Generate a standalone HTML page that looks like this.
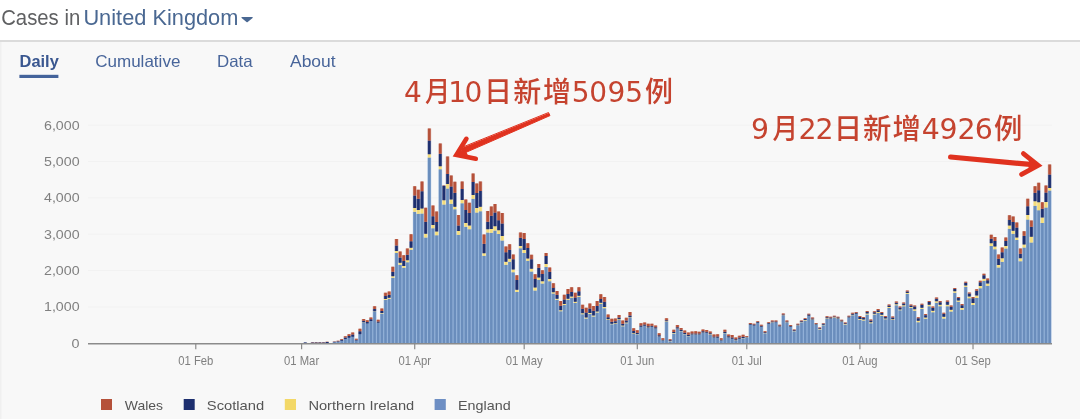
<!DOCTYPE html>
<html lang="en">
<head>
<meta charset="utf-8">
<title>Cases in United Kingdom</title>
<style>
html,body{margin:0;padding:0;}
body{width:1080px;height:419px;overflow:hidden;background:#f8f8f8;font-family:"Liberation Sans","Noto Sans CJK SC",sans-serif;position:relative;}
svg{position:absolute;left:0;top:0;display:block;will-change:transform;}
text{font-family:"Liberation Sans","Noto Sans CJK SC",sans-serif;}
.title{font-size:21.6px;fill:#606163;}
.title .uk{fill:#4a6892;}
.tab{font-size:16.5px;fill:#48659a;}
.tab.on{font-weight:bold;font-size:16px;fill:#3a5790;}
.ax text{font-size:12.2px;fill:#808080;}
.lg text{font-size:13.5px;fill:#555;}
text.n2{font-size:28.4px !important;}
.note{font-family:"DejaVu Sans","Noto Sans CJK SC",sans-serif;font-size:28px;font-weight:500;fill:#c5432f;}
</style>
</head>
<body>
<svg width="1080" height="419" viewBox="0 0 1080 419">
<rect x="0" y="0" width="1080" height="40" fill="#ffffff"/>
<rect x="0" y="40" width="1080" height="2" fill="#dbdbdb"/>
<rect x="0" y="42" width="1.5" height="377" fill="#f0f0f0"/>
<g class="title">
<text x="1.2" y="24.5" textLength="79" lengthAdjust="spacingAndGlyphs">Cases in</text>
<text class="uk" x="83.4" y="24.5" textLength="155" lengthAdjust="spacingAndGlyphs">United Kingdom</text>
<path d="M241.8 17.1 h10.6 q0.6 0.2 0.2 0.8 l-4.9 4.2 q-0.6 0.4 -1.2 0 l-4.9 -4.2 q-0.4 -0.6 0.2 -0.8z" fill="#4a6892"/>
</g>
<g>
<text class="tab on" x="19.6" y="67.4" textLength="39.2" lengthAdjust="spacingAndGlyphs">Daily</text>
<rect x="19.4" y="74.8" width="39" height="3.2" fill="#44639b"/>
<text class="tab" x="95.2" y="67.4" textLength="85.2" lengthAdjust="spacingAndGlyphs">Cumulative</text>
<text class="tab" x="217" y="67.4" textLength="35.6" lengthAdjust="spacingAndGlyphs">Data</text>
<text class="tab" x="290" y="67.4" textLength="45.6" lengthAdjust="spacingAndGlyphs">About</text>
</g>
<g class="grid">
<line x1="88" x2="1052" y1="307.02" y2="307.02" stroke="#f2f2f2" stroke-width="1"/>
<line x1="88" x2="1052" y1="270.64" y2="270.64" stroke="#f2f2f2" stroke-width="1"/>
<line x1="88" x2="1052" y1="234.26" y2="234.26" stroke="#f2f2f2" stroke-width="1"/>
<line x1="88" x2="1052" y1="197.88" y2="197.88" stroke="#f2f2f2" stroke-width="1"/>
<line x1="88" x2="1052" y1="161.5" y2="161.5" stroke="#f2f2f2" stroke-width="1"/>
<line x1="88" x2="1052" y1="125.12" y2="125.12" stroke="#f2f2f2" stroke-width="1"/>
</g>
<g class="bars">
<path fill="#97b5db" d="M299.77 343.4v-0h3.67v0zM303.41 343.4v-0h3.67v0zM307.06 343.4v-0h3.67v0zM310.71 343.4v-0h3.67v0zM314.36 343.4v-0h3.67v0zM318.01 343.4v-0h3.67v0zM321.66 343.4v-0h3.67v0zM325.31 343.4v-0h3.67v0zM328.96 343.4v-0h3.67v0zM332.61 343.4v-1.24h3.67v1.24zM336.26 343.4v-1.67h3.67v1.67zM339.9 343.4v-2.73h3.67v2.73zM343.55 343.4v-4.46h3.67v4.46zM347.2 343.4v-5.64h3.67v5.64zM350.85 343.4v-6.76h3.67v6.76zM354.5 343.4v-2.85h3.67v2.85zM358.15 343.4v-9.14h3.67v9.14zM361.8 343.4v-20.91h3.67v20.91zM365.45 343.4v-19.8h3.67v19.8zM369.1 343.4v-22.28h3.67v22.28zM372.75 343.4v-31.92h3.67v31.92zM376.39 343.4v-20.35h3.67v20.35zM380.04 343.4v-29.99h3.67v29.99zM383.69 343.4v-43.36h3.67v43.36zM387.34 343.4v-44.56h3.67v44.56zM390.99 343.4v-65.65h3.67v65.65zM394.64 343.4v-90.3h3.67v90.3zM398.29 343.4v-78.76h3.67v78.76zM401.94 343.4v-75.54h3.67v75.54zM405.59 343.4v-81.24h3.67v81.24zM409.24 343.4v-93.54h3.67v93.54zM412.88 343.4v-131.6h3.67v131.6zM416.53 343.4v-129.75h3.67v129.75zM420.18 343.4v-130h3.67v130zM423.83 343.4v-105.95h3.67v105.95zM427.48 343.4v-186h3.67v186zM431.13 343.4v-115.25h3.67v115.25zM434.78 343.4v-108.25h3.67v108.25zM438.43 343.4v-174.15h3.67v174.15zM442.08 343.4v-138.8h3.67v138.8zM445.73 343.4v-155h3.67v155zM449.37 343.4v-139.6h3.67v139.6zM453.02 343.4v-134.1h3.67v134.1zM456.67 343.4v-108.55h3.67v108.55zM460.32 343.4v-140.2h3.67v140.2zM463.97 343.4v-116.55h3.67v116.55zM467.62 343.4v-114.1h3.67v114.1zM471.27 343.4v-144.7h3.67v144.7zM474.92 343.4v-130.9h3.67v130.9zM478.57 343.4v-132.2h3.67v132.2zM482.22 343.4v-87.7h3.67v87.7zM485.86 343.4v-111h3.67v111zM489.51 343.4v-110.75h3.67v110.75zM493.16 343.4v-112.85h3.67v112.85zM496.81 343.4v-109.5h3.67v109.5zM500.46 343.4v-102.9h3.67v102.9zM504.11 343.4v-78.6h3.67v78.6zM507.76 343.4v-81.71h3.67v81.71zM511.41 343.4v-71.26h3.67v71.26zM515.06 343.4v-51.35h3.67v51.35zM518.71 343.4v-95.24h3.67v95.24zM522.35 343.4v-90.5h3.67v90.5zM526 343.4v-82.71h3.67v82.71zM529.65 343.4v-71.78h3.67v71.78zM533.3 343.4v-52.98h3.67v52.98zM536.95 343.4v-63.66h3.67v63.66zM540.6 343.4v-59.95h3.67v59.95zM544.25 343.4v-76.5h3.67v76.5zM547.9 343.4v-62.1h3.67v62.1zM551.55 343.4v-50.02h3.67v50.02zM555.2 343.4v-43.75h3.67v43.75zM558.84 343.4v-32.1h3.67v32.1zM562.49 343.4v-38.42h3.67v38.42zM566.14 343.4v-43.59h3.67v43.59zM569.79 343.4v-45.59h3.67v45.59zM573.44 343.4v-40.34h3.67v40.34zM577.09 343.4v-46.55h3.67v46.55zM580.74 343.4v-29.16h3.67v29.16zM584.39 343.4v-24.81h3.67v24.81zM588.04 343.4v-29.32h3.67v29.32zM591.69 343.4v-26.93h3.67v26.93zM595.33 343.4v-30.92h3.67v30.92zM598.98 343.4v-39.43h3.67v39.43zM602.63 343.4v-35.12h3.67v35.12zM606.28 343.4v-23.52h3.67v23.52zM609.93 343.4v-19.15h3.67v19.15zM613.58 343.4v-19.5h3.67v19.5zM617.23 343.4v-23.46h3.67v23.46zM620.88 343.4v-17.2h3.67v17.2zM624.53 343.4v-20.26h3.67v20.26zM628.18 343.4v-25.53h3.67v25.53zM631.82 343.4v-9.47h3.67v9.47zM635.47 343.4v-9.07h3.67v9.07zM639.12 343.4v-16.47h3.67v16.47zM642.77 343.4v-17.43h3.67v17.43zM646.42 343.4v-15.51h3.67v15.51zM650.07 343.4v-16.4h3.67v16.4zM653.72 343.4v-14.72h3.67v14.72zM657.37 343.4v-6.62h3.67v6.62zM661.02 343.4v-2.62h3.67v2.62zM664.67 343.4v-21.77h3.67v21.77zM668.31 343.4v-2.12h3.67v2.12zM671.96 343.4v-10h3.67v10zM675.61 343.4v-14.63h3.67v14.63zM679.26 343.4v-12.06h3.67v12.06zM682.91 343.4v-9.03h3.67v9.03zM686.56 343.4v-7.12h3.67v7.12zM690.21 343.4v-8.55h3.67v8.55zM693.86 343.4v-8.59h3.67v8.59zM697.51 343.4v-8.6h3.67v8.6zM701.16 343.4v-10.72h3.67v10.72zM704.8 343.4v-10.35h3.67v10.35zM708.45 343.4v-8.74h3.67v8.74zM712.1 343.4v-5.71h3.67v5.71zM715.75 343.4v-5.32h3.67v5.32zM719.4 343.4v-2.63h3.67v2.63zM723.05 343.4v-10.17h3.67v10.17zM726.7 343.4v-5.53h3.67v5.53zM730.35 343.4v-4.44h3.67v4.44zM734 343.4v-2.95h3.67v2.95zM737.65 343.4v-4.37h3.67v4.37zM741.29 343.4v-5.04h3.67v5.04zM744.94 343.4v-5.85h3.67v5.85zM748.59 343.4v-18.45h3.67v18.45zM752.24 343.4v-17.8h3.67v17.8zM755.89 343.4v-20.35h3.67v20.35zM759.54 343.4v-16.44h3.67v16.44zM763.19 343.4v-10.21h3.67v10.21zM766.84 343.4v-19.49h3.67v19.49zM770.49 343.4v-21h3.67v21zM774.14 343.4v-21.06h3.67v21.06zM777.78 343.4v-16.7h3.67v16.7zM781.43 343.4v-27.84h3.67v27.84zM785.08 343.4v-20.91h3.67v20.91zM788.73 343.4v-16.5h3.67v16.5zM792.38 343.4v-12.14h3.67v12.14zM796.03 343.4v-17.99h3.67v17.99zM799.68 343.4v-21.04h3.67v21.04zM803.33 343.4v-22.95h3.67v22.95zM806.98 343.4v-27.37h3.67v27.37zM810.63 343.4v-23.51h3.67v23.51zM814.27 343.4v-18.53h3.67v18.53zM817.92 343.4v-13.98h3.67v13.98zM821.57 343.4v-18.19h3.67v18.19zM825.22 343.4v-24.77h3.67v24.77zM828.87 343.4v-24.61h3.67v24.61zM832.52 343.4v-25.7h3.67v25.7zM836.17 343.4v-24.47h3.67v24.47zM839.82 343.4v-21.49h3.67v21.49zM843.47 343.4v-18.91h3.67v18.91zM847.12 343.4v-25.62h3.67v25.62zM850.76 343.4v-28.26h3.67v28.26zM854.41 343.4v-29.36h3.67v29.36zM858.06 343.4v-23.72h3.67v23.72zM861.71 343.4v-22.92h3.67v22.92zM865.36 343.4v-28.92h3.67v28.92zM869.01 343.4v-20.19h3.67v20.19zM872.66 343.4v-28.93h3.67v28.93zM876.31 343.4v-30.44h3.67v30.44zM879.96 343.4v-27.68h3.67v27.68zM883.61 343.4v-24.06h3.67v24.06zM887.25 343.4v-35.41h3.67v35.41zM890.9 343.4v-23.45h3.67v23.45zM894.55 343.4v-38.18h3.67v38.18zM898.2 343.4v-33.04h3.67v33.04zM901.85 343.4v-37.15h3.67v37.15zM905.5 343.4v-49.52h3.67v49.52zM909.15 343.4v-35.53h3.67v35.53zM912.8 343.4v-32.63h3.67v32.63zM916.45 343.4v-21.08h3.67v21.08zM920.1 343.4v-34.37h3.67v34.37zM923.74 343.4v-24.53h3.67v24.53zM927.39 343.4v-37.15h3.67v37.15zM931.04 343.4v-31.14h3.67v31.14zM934.69 343.4v-40.64h3.67v40.64zM938.34 343.4v-37.15h3.67v37.15zM941.99 343.4v-24.94h3.67v24.94zM945.64 343.4v-37.17h3.67v37.17zM949.29 343.4v-31.98h3.67v31.98zM952.94 343.4v-50.63h3.67v50.63zM956.59 343.4v-41.74h3.67v41.74zM960.23 343.4v-33.65h3.67v33.65zM963.88 343.4v-56.35h3.67v56.35zM967.53 343.4v-45.23h3.67v45.23zM971.18 343.4v-38.29h3.67v38.29zM974.83 343.4v-45.44h3.67v45.44zM978.48 343.4v-55.08h3.67v55.08zM982.13 343.4v-62.52h3.67v62.52zM985.78 343.4v-57.62h3.67v57.62zM989.43 343.4v-97.37h3.67v97.37zM993.08 343.4v-94.27h3.67v94.27zM996.72 343.4v-75.85h3.67v75.85zM1000.37 343.4v-81.62h3.67v81.62zM1004.02 343.4v-94.93h3.67v94.93zM1007.67 343.4v-114.7h3.67v114.7zM1011.32 343.4v-109.65h3.67v109.65zM1014.97 343.4v-103.4h3.67v103.4zM1018.62 343.4v-82.15h3.67v82.15zM1022.27 343.4v-96h3.67v96zM1025.92 343.4v-124h3.67v124zM1029.57 343.4v-100.95h3.67v100.95zM1033.21 343.4v-137.75h3.67v137.75zM1036.86 343.4v-133.15h3.67v133.15zM1040.51 343.4v-120.3h3.67v120.3zM1044.16 343.4v-135.9h3.67v135.9zM1047.81 343.4v-152.9h3.67v152.9z"/>
<path fill="#f5e9b3" d="M361.8 322.49v-0.2h3.67v0.2zM365.45 323.6v-0.18h3.67v0.18zM369.1 321.12v-0.21h3.67v0.21zM372.75 311.48v-0.3h3.67v0.3zM376.39 323.05v-0.19h3.67v0.19zM380.04 313.4v-0.28h3.67v0.28zM383.69 300.04v-1.01h3.67v1.01zM387.34 298.84v-1.04h3.67v1.04zM390.99 277.75v-1.53h3.67v1.53zM394.64 253.1v-2h3.67v2zM398.29 264.64v-1.84h3.67v1.84zM401.94 267.86v-1.76h3.67v1.76zM405.59 262.16v-1.9h3.67v1.9zM409.24 249.86v-2.18h3.67v2.18zM412.88 211.8v-3.75h3.67v3.75zM416.53 213.65v-3.75h3.67v3.75zM420.18 213.4v-5h3.67v5zM423.83 237.45v-3.75h3.67v3.75zM427.48 157.4v-3.1h3.67v3.1zM431.13 228.15v-3.1h3.67v3.1zM434.78 235.15v-3.75h3.67v3.75zM438.43 169.25v-3.1h3.67v3.1zM442.08 204.6v-4.4h3.67v4.4zM445.73 188.4v-4.3h3.67v4.3zM449.37 203.8v-4.4h3.67v4.4zM453.02 209.3v-2.5h3.67v2.5zM456.67 234.85v-3.75h3.67v3.75zM460.32 203.2v-3.1h3.67v3.1zM463.97 226.85v-3.75h3.67v3.75zM467.62 229.3v-3.75h3.67v3.75zM471.27 198.7v-3.8h3.67v3.8zM474.92 212.5v-4.4h3.67v4.4zM478.57 211.2v-4.4h3.67v4.4zM482.22 255.7v-2.5h3.67v2.5zM485.86 232.4v-3.1h3.67v3.1zM489.51 232.65v-3.75h3.67v3.75zM493.16 230.55v-4.4h3.67v4.4zM496.81 233.9v-3.75h3.67v3.75zM500.46 240.5v-4.4h3.67v4.4zM504.11 264.8v-3.1h3.67v3.1zM507.76 261.69v-2.9h3.67v2.9zM511.41 272.14v-2.58h3.67v2.58zM515.06 292.05v-2.22h3.67v2.22zM518.71 248.16v-2.23h3.67v2.23zM522.35 252.9v-3h3.67v3zM526 260.69v-2.18h3.67v2.18zM529.65 271.62v-2.88h3.67v2.88zM533.3 290.42v-2.85h3.67v2.85zM536.95 279.74v-2.2h3.67v2.2zM540.6 283.45v-2.18h3.67v2.18zM544.25 266.9v-3h3.67v3zM547.9 281.3v-2.31h3.67v2.31zM551.55 293.38v-1.12h3.67v1.12zM555.2 299.65v-0.98h3.67v0.98zM558.84 311.3v-1.03h3.67v1.03zM562.49 304.98v-1.02h3.67v1.02zM566.14 299.81v-1h3.67v1zM569.79 297.81v-1.25h3.67v1.25zM573.44 303.06v-1.29h3.67v1.29zM577.09 296.85v-1.2h3.67v1.2zM580.74 314.24v-0.92h3.67v0.92zM584.39 318.59v-1.13h3.67v1.13zM588.04 314.08v-1.18h3.67v1.18zM591.69 316.47v-1.08h3.67v1.08zM595.33 312.48v-1.09h3.67v1.09zM598.98 303.97v-1.18h3.67v1.18zM602.63 308.28v-1.23h3.67v1.23zM606.28 319.88v-0.6h3.67v0.6zM609.93 324.25v-0.6h3.67v0.6zM613.58 323.9v-0.6h3.67v0.6zM617.23 319.94v-0.6h3.67v0.6zM620.88 326.2v-0.6h3.67v0.6zM624.53 323.14v-0.6h3.67v0.6zM628.18 317.87v-0.6h3.67v0.6zM631.82 333.93v-0.6h3.67v0.6zM635.47 334.33v-0.3h3.67v0.3zM639.12 326.93v-0.3h3.67v0.3zM642.77 325.97v-0.3h3.67v0.3zM646.42 327.89v-0.3h3.67v0.3zM650.07 327v-0.3h3.67v0.3zM653.72 328.68v-0.3h3.67v0.3zM657.37 336.78v-0.3h3.67v0.3zM661.02 340.77v-0.25h3.67v0.25zM664.67 321.63v-0.3h3.67v0.3zM668.31 341.27v-0.17h3.67v0.17zM671.96 333.4v-0.3h3.67v0.3zM675.61 328.77v-0.3h3.67v0.3zM679.26 331.34v-0.3h3.67v0.3zM682.91 334.37v-0.3h3.67v0.3zM686.56 336.28v-0.3h3.67v0.3zM690.21 334.85v-0.3h3.67v0.3zM693.86 334.81v-0.3h3.67v0.3zM697.51 334.8v-0.3h3.67v0.3zM701.16 332.68v-0.3h3.67v0.3zM704.8 333.05v-0.3h3.67v0.3zM708.45 334.66v-0.3h3.67v0.3zM712.1 337.69v-0.3h3.67v0.3zM715.75 338.08v-0.3h3.67v0.3zM719.4 340.77v-0.24h3.67v0.24zM723.05 333.23v-0.3h3.67v0.3zM726.7 337.87v-0.3h3.67v0.3zM730.35 338.96v-0.3h3.67v0.3zM734 340.45v-0.26h3.67v0.26zM737.65 339.03v-0.3h3.67v0.3zM741.29 338.36v-0.3h3.67v0.3zM744.94 337.55v-0.2h3.67v0.2zM748.59 324.95v-0.2h3.67v0.2zM752.24 325.6v-0.2h3.67v0.2zM755.89 323.05v-0.2h3.67v0.2zM759.54 326.96v-0.2h3.67v0.2zM763.19 333.19v-0.2h3.67v0.2zM766.84 323.91v-0.2h3.67v0.2zM770.49 322.4v-0.2h3.67v0.2zM774.14 322.34v-0.2h3.67v0.2zM777.78 326.7v-0.2h3.67v0.2zM781.43 315.56v-0.2h3.67v0.2zM785.08 322.49v-0.2h3.67v0.2zM788.73 326.9v-0.2h3.67v0.2zM792.38 331.26v-0.2h3.67v0.2zM796.03 325.41v-0.2h3.67v0.2zM799.68 322.36v-0.4h3.67v0.4zM803.33 320.45v-0.4h3.67v0.4zM806.98 316.03v-0.4h3.67v0.4zM810.63 319.89v-0.4h3.67v0.4zM814.27 324.87v-0.4h3.67v0.4zM817.92 329.42v-0.4h3.67v0.4zM821.57 325.21v-0.4h3.67v0.4zM825.22 318.63v-0.4h3.67v0.4zM828.87 318.79v-0.4h3.67v0.4zM832.52 317.7v-0.4h3.67v0.4zM836.17 318.93v-0.4h3.67v0.4zM839.82 321.91v-0.4h3.67v0.4zM843.47 324.49v-0.4h3.67v0.4zM847.12 317.78v-0.4h3.67v0.4zM850.76 315.14v-0.4h3.67v0.4zM854.41 314.04v-0.4h3.67v0.4zM858.06 319.68v-0.79h3.67v0.79zM861.71 320.48v-1.03h3.67v1.03zM865.36 314.48v-1.01h3.67v1.01zM869.01 323.21v-0.85h3.67v0.85zM872.66 314.47v-0.74h3.67v0.74zM876.31 312.96v-0.91h3.67v0.91zM879.96 315.72v-1.02h3.67v1.02zM883.61 319.34v-0.82h3.67v0.82zM887.25 307.99v-0.93h3.67v0.93zM890.9 319.95v-0.78h3.67v0.78zM894.55 305.22v-0.89h3.67v0.89zM898.2 310.36v-0.87h3.67v0.87zM901.85 306.25v-0.91h3.67v0.91zM905.5 293.88v-0.88h3.67v0.88zM909.15 307.87v-1h3.67v1zM912.8 310.77v-1.62h3.67v1.62zM916.45 322.32v-1.51h3.67v1.51zM920.1 309.03v-1.29h3.67v1.29zM923.74 318.87v-1.38h3.67v1.38zM927.39 306.25v-1.53h3.67v1.53zM931.04 312.26v-1.47h3.67v1.47zM934.69 302.76v-1.51h3.67v1.51zM938.34 306.25v-1.52h3.67v1.52zM941.99 318.46v-1.61h3.67v1.61zM945.64 306.23v-1.37h3.67v1.37zM949.29 311.42v-1.68h3.67v1.68zM952.94 292.77v-1.47h3.67v1.47zM956.59 301.66v-1.27h3.67v1.27zM960.23 309.75v-1.71h3.67v1.71zM963.88 287.05v-1.59h3.67v1.59zM967.53 298.17v-1.75h3.67v1.75zM971.18 305.11v-2.12h3.67v2.12zM974.83 297.96v-2.46h3.67v2.46zM978.48 288.32v-2.21h3.67v2.21zM982.13 280.88v-2.06h3.67v2.06zM985.78 285.78v-2.24h3.67v2.24zM989.43 246.03v-2.82h3.67v2.82zM993.08 249.13v-2.53h3.67v2.53zM996.72 267.55v-2.5h3.67v2.5zM1000.37 261.78v-3.51h3.67v3.51zM1004.02 248.47v-2.5h3.67v2.5zM1007.67 228.7v-3.1h3.67v3.1zM1011.32 233.75v-3.1h3.67v3.1zM1014.97 240v-2.5h3.67v2.5zM1018.62 261.25v-3.1h3.67v3.1zM1022.27 247.4v-3h3.67v3zM1025.92 219.4v-4.4h3.67v4.4zM1029.57 242.45v-5.6h3.67v5.6zM1033.21 205.65v-4.4h3.67v4.4zM1036.86 210.25v-8h3.67v8zM1040.51 223.1v-5.6h3.67v5.6zM1044.16 207.5v-5.6h3.67v5.6zM1047.81 190.5v-2.5h3.67v2.5z"/>
<path fill="#8089ad" d="M299.77 343.4v-0.26h3.67v0.26zM303.41 343.4v-0.85h3.67v0.85zM307.06 343.4v-0.34h3.67v0.34zM310.71 343.4v-0.94h3.67v0.94zM314.36 343.4v-0.94h3.67v0.94zM318.01 343.4v-1.02h3.67v1.02zM321.66 343.4v-1.02h3.67v1.02zM325.31 343.4v-1.36h3.67v1.36zM328.96 343.4v-0.34h3.67v0.34zM332.61 342.16v-0.4h3.67v0.4zM336.26 341.73v-0.54h3.67v0.54zM339.9 340.67v-0.88h3.67v0.88zM343.55 338.94v-1.44h3.67v1.44zM347.2 337.76v-1.82h3.67v1.82zM350.85 336.64v-2.18h3.67v2.18zM354.5 340.55v-0.92h3.67v0.92zM358.15 334.25v-2.95h3.67v2.95zM361.8 322.29v-1.46h3.67v1.46zM365.45 323.42v-1.39h3.67v1.39zM369.1 320.91v-1.56h3.67v1.56zM372.75 311.18v-2.23h3.67v2.23zM376.39 322.86v-1.43h3.67v1.43zM380.04 313.12v-2.1h3.67v2.1zM383.69 299.02v-2.93h3.67v2.93zM387.34 297.8v-3.02h3.67v3.02zM390.99 276.22v-4.44h3.67v4.44zM394.64 251.1v-5.6h3.67v5.6zM398.29 262.8v-5.33h3.67v5.33zM401.94 266.09v-5.11h3.67v5.11zM405.59 260.26v-5.5h3.67v5.5zM409.24 247.68v-6.33h3.67v6.33zM412.88 208.05v-12.5h3.67v12.5zM416.53 209.9v-11.25h3.67v11.25zM420.18 208.4v-17.25h3.67v17.25zM423.83 233.7v-11.9h3.67v11.9zM427.48 154.3v-13.8h3.67v13.8zM431.13 225.05v-8.75h3.67v8.75zM434.78 231.4v-9.4h3.67v9.4zM438.43 166.15v-12.5h3.67v12.5zM442.08 200.2v-14.4h3.67v14.4zM445.73 184.1v-10.1h3.67v10.1zM449.37 199.4v-13h3.67v13zM453.02 206.8v-14h3.67v14zM456.67 231.1v-5.6h3.67v5.6zM460.32 200.1v-11.2h3.67v11.2zM463.97 223.1v-13.1h3.67v13.1zM467.62 225.55v-12.5h3.67v12.5zM471.27 194.9v-13h3.67v13zM474.92 208.1v-15.2h3.67v15.2zM478.57 206.8v-15.9h3.67v15.9zM482.22 253.2v-9.4h3.67v9.4zM485.86 229.3v-7.5h3.67v7.5zM489.51 228.9v-13.1h3.67v13.1zM493.16 226.15v-13.75h3.67v13.75zM496.81 230.15v-10h3.67v10zM500.46 236.1v-12.5h3.67v12.5zM504.11 261.7v-9.4h3.67v9.4zM507.76 258.79v-9.01h3.67v9.01zM511.41 269.57v-10.25h3.67v10.25zM515.06 289.83v-9.95h3.67v9.95zM518.71 245.92v-8.22h3.67v8.22zM522.35 249.9v-11h3.67v11zM526 258.5v-10.45h3.67v10.45zM529.65 268.74v-9.57h3.67v9.57zM533.3 287.57v-8.63h3.67v8.63zM536.95 277.54v-9.9h3.67v9.9zM540.6 281.28v-7.4h3.67v7.4zM544.25 263.9v-8h3.67v8zM547.9 278.99v-7.25h3.67v7.25zM551.55 292.26v-4.39h3.67v4.39zM555.2 298.66v-3.87h3.67v3.87zM558.84 310.27v-4.48h3.67v4.48zM562.49 303.96v-4.52h3.67v4.52zM566.14 298.81v-4.93h3.67v4.93zM569.79 296.56v-4.64h3.67v4.64zM573.44 301.77v-4.25h3.67v4.25zM577.09 295.65v-4.46h3.67v4.46zM580.74 313.32v-4.58h3.67v4.58zM584.39 317.46v-5.04h3.67v5.04zM588.04 312.9v-4.29h3.67v4.29zM591.69 315.39v-4.73h3.67v4.73zM595.33 311.39v-5.34h3.67v5.34zM598.98 302.79v-3.87h3.67v3.87zM602.63 307.05v-5.42h3.67v5.42zM606.28 319.28v-2.11h3.67v2.11zM609.93 323.65v-1.82h3.67v1.82zM613.58 323.3v-1.94h3.67v1.94zM617.23 319.34v-1.85h3.67v1.85zM620.88 325.6v-1.91h3.67v1.91zM624.53 322.54v-2.11h3.67v2.11zM628.18 317.27v-1.87h3.67v1.87zM631.82 333.33v-2.24h3.67v2.24zM635.47 334.03v-1.34h3.67v1.34zM639.12 326.63v-1.1h3.67v1.1zM642.77 325.67v-1.14h3.67v1.14zM646.42 327.59v-1.4h3.67v1.4zM650.07 326.7v-1.06h3.67v1.06zM653.72 328.38v-1.08h3.67v1.08zM657.37 336.48v-1.24h3.67v1.24zM661.02 340.53v-0.81h3.67v0.81zM664.67 321.33v-1.14h3.67v1.14zM668.31 341.11v-0.77h3.67v0.77zM671.96 333.1v-1.21h3.67v1.21zM675.61 328.47v-1.28h3.67v1.28zM679.26 331.04v-1.37h3.67v1.37zM682.91 334.07v-1.36h3.67v1.36zM686.56 335.98v-1.15h3.67v1.15zM690.21 334.55v-1.03h3.67v1.03zM693.86 334.51v-1.01h3.67v1.01zM697.51 334.5v-1.07h3.67v1.07zM701.16 332.38v-1.13h3.67v1.13zM704.8 332.75v-0.98h3.67v0.98zM708.45 334.36v-1.03h3.67v1.03zM712.1 337.39v-1h3.67v1zM715.75 337.78v-1.25h3.67v1.25zM719.4 340.53v-0.89h3.67v0.89zM723.05 332.93v-1.14h3.67v1.14zM726.7 337.57v-1.35h3.67v1.35zM730.35 338.66v-1.19h3.67v1.19zM734 340.19v-0.88h3.67v0.88zM737.65 338.73v-1.13h3.67v1.13zM741.29 338.06v-1.34h3.67v1.34zM744.94 337.35v-0.66h3.67v0.66zM748.59 324.75v-0.81h3.67v0.81zM752.24 325.4v-0.81h3.67v0.81zM755.89 322.85v-0.81h3.67v0.81zM759.54 326.76v-0.9h3.67v0.9zM763.19 332.99v-0.73h3.67v0.73zM766.84 323.71v-0.7h3.67v0.7zM770.49 322.2v-0.81h3.67v0.81zM774.14 322.14v-0.75h3.67v0.75zM777.78 326.5v-0.89h3.67v0.89zM781.43 315.36v-0.9h3.67v0.9zM785.08 322.29v-0.89h3.67v0.89zM788.73 326.7v-0.72h3.67v0.72zM792.38 331.06v-0.76h3.67v0.76zM796.03 325.21v-0.66h3.67v0.66zM799.68 321.96v-0.82h3.67v0.82zM803.33 320.05v-1.05h3.67v1.05zM806.98 315.63v-1.04h3.67v1.04zM810.63 319.49v-1.05h3.67v1.05zM814.27 324.47v-0.81h3.67v0.81zM817.92 329.02v-0.8h3.67v0.8zM821.57 324.81v-0.94h3.67v0.94zM825.22 318.23v-1.01h3.67v1.01zM828.87 318.39v-0.95h3.67v0.95zM832.52 317.3v-0.77h3.67v0.77zM836.17 318.53v-1.03h3.67v1.03zM839.82 321.51v-0.98h3.67v0.98zM843.47 324.09v-0.8h3.67v0.8zM847.12 317.38v-0.85h3.67v0.85zM850.76 314.74v-1.05h3.67v1.05zM854.41 313.64v-0.87h3.67v0.87zM858.06 318.89v-1.95h3.67v1.95zM861.71 319.45v-1.57h3.67v1.57zM865.36 313.47v-1.57h3.67v1.57zM869.01 322.36v-1.9h3.67v1.9zM872.66 313.73v-1.56h3.67v1.56zM876.31 312.05v-1.9h3.67v1.9zM879.96 314.7v-1.76h3.67v1.76zM883.61 318.52v-1.61h3.67v1.61zM887.25 307.06v-1.63h3.67v1.63zM890.9 319.17v-1.75h3.67v1.75zM894.55 304.34v-1.71h3.67v1.71zM898.2 309.49v-2.06h3.67v2.06zM901.85 305.34v-1.8h3.67v1.8zM905.5 293v-1.49h3.67v1.49zM909.15 306.88v-1.48h3.67v1.48zM912.8 309.15v-2.58h3.67v2.58zM916.45 320.81v-2.44h3.67v2.44zM920.1 307.74v-2.87h3.67v2.87zM923.74 317.49v-2.36h3.67v2.36zM927.39 304.72v-2.61h3.67v2.61zM931.04 310.79v-2.99h3.67v2.99zM934.69 301.25v-2.61h3.67v2.61zM938.34 304.73v-2.56h3.67v2.56zM941.99 316.85v-3.01h3.67v3.01zM945.64 304.86v-3.01h3.67v3.01zM949.29 309.74v-3.01h3.67v3.01zM952.94 291.3v-2.25h3.67v2.25zM956.59 300.39v-2.36h3.67v2.36zM960.23 308.03v-2.87h3.67v2.87zM963.88 285.47v-2.8h3.67v2.8zM967.53 296.42v-2.96h3.67v2.96zM971.18 302.99v-4.65h3.67v4.65zM974.83 295.5v-4.71h3.67v4.71zM978.48 286.11v-3.9h3.67v3.9zM982.13 278.82v-3.56h3.67v3.56zM985.78 283.54v-3.31h3.67v3.31zM989.43 243.21v-4.55h3.67v4.55zM993.08 246.6v-5.52h3.67v5.52zM996.72 265.05v-6.25h3.67v6.25zM1000.37 258.27v-6.07h3.67v6.07zM1004.02 245.97v-5.04h3.67v5.04zM1007.67 225.6v-5.6h3.67v5.6zM1011.32 230.65v-8.75h3.67v8.75zM1014.97 237.5v-10h3.67v10zM1018.62 258.15v-4.4h3.67v4.4zM1022.27 244.4v-8.75h3.67v8.75zM1025.92 215v-8.75h3.67v8.75zM1029.57 236.85v-10h3.67v10zM1033.21 201.25v-8.5h3.67v8.5zM1036.86 202.25v-12h3.67v12zM1040.51 217.5v-8.75h3.67v8.75zM1044.16 201.9v-9.5h3.67v9.5zM1047.81 188v-13.6h3.67v13.6z"/>
<path fill="#d39c8f" d="M303.41 342.55v-0.15h3.67v0.15zM307.06 343.06v-0.06h3.67v0.06zM310.71 342.46v-0.17h3.67v0.17zM314.36 342.46v-0.17h3.67v0.17zM318.01 342.38v-0.18h3.67v0.18zM321.66 342.38v-0.18h3.67v0.18zM325.31 342.04v-0.24h3.67v0.24zM328.96 343.06v-0.06h3.67v0.06zM332.61 341.76v-0.36h3.67v0.36zM336.26 341.19v-0.49h3.67v0.49zM339.9 339.79v-0.79h3.67v0.79zM343.55 337.5v-1.3h3.67v1.3zM347.2 335.94v-1.64h3.67v1.64zM350.85 334.46v-1.96h3.67v1.96zM354.5 339.63v-0.83h3.67v0.83zM358.15 331.31v-2.65h3.67v2.65zM361.8 320.83v-1.83h3.67v1.83zM365.45 322.03v-1.73h3.67v1.73zM369.1 319.35v-1.95h3.67v1.95zM372.75 308.94v-2.79h3.67v2.79zM376.39 321.43v-1.78h3.67v1.78zM380.04 311.02v-2.62h3.67v2.62zM383.69 296.09v-3.29h3.67v3.29zM387.34 294.78v-3.38h3.67v3.38zM390.99 271.78v-4.98h3.67v4.98zM394.64 245.5v-6.5h3.67v6.5zM398.29 257.47v-5.97h3.67v5.97zM401.94 260.98v-5.73h3.67v5.73zM405.59 254.76v-6.16h3.67v6.16zM409.24 241.34v-7.09h3.67v7.09zM412.88 195.55v-9.4h3.67v9.4zM416.53 198.65v-9h3.67v9zM420.18 191.15v-9.75h3.67v9.75zM423.83 221.8v-14h3.67v14zM427.48 140.5v-12.1h3.67v12.1zM431.13 216.3v-10.9h3.67v10.9zM434.78 222v-10.6h3.67v10.6zM438.43 153.65v-10.25h3.67v10.25zM442.08 185.8v-0.4h3.67v0.4zM445.73 174v-17.6h3.67v17.6zM449.37 186.4v-11h3.67v11zM453.02 192.8v-11h3.67v11zM456.67 225.5v-10.6h3.67v10.6zM460.32 188.9v-7.5h3.67v7.5zM463.97 210v-10.6h3.67v10.6zM467.62 213.05v-10.4h3.67v10.4zM471.27 181.9v-8.5h3.67v8.5zM474.92 192.9v-9.5h3.67v9.5zM478.57 190.9v-9.5h3.67v9.5zM482.22 243.8v-9.4h3.67v9.4zM485.86 221.8v-10.9h3.67v10.9zM489.51 215.8v-9.4h3.67v9.4zM493.16 212.4v-8.5h3.67v8.5zM496.81 220.15v-8.75h3.67v8.75zM500.46 223.6v-10.6h3.67v10.6zM504.11 252.3v-5.9h3.67v5.9zM507.76 249.78v-5.63h3.67v5.63zM511.41 259.32v-4.92h3.67v4.92zM515.06 279.88v-4.73h3.67v4.73zM518.71 237.7v-5.3h3.67v5.3zM522.35 238.9v-6h3.67v6zM526 248.06v-4.91h3.67v4.91zM529.65 259.17v-4.37h3.67v4.37zM533.3 278.94v-4.79h3.67v4.79zM536.95 267.64v-3.74h3.67v3.74zM540.6 273.88v-3.73h3.67v3.73zM544.25 255.9v-3h3.67v3zM547.9 271.74v-4.34h3.67v4.34zM551.55 287.88v-4.73h3.67v4.73zM555.2 294.79v-3.79h3.67v3.79zM558.84 305.79v-4.79h3.67v4.79zM562.49 299.44v-4.64h3.67v4.64zM566.14 293.88v-4.98h3.67v4.98zM569.79 291.92v-4.62h3.67v4.62zM573.44 297.52v-4.87h3.67v4.87zM577.09 291.18v-3.88h3.67v3.88zM580.74 308.74v-3.94h3.67v3.94zM584.39 312.42v-4.77h3.67v4.77zM588.04 308.61v-5.11h3.67v5.11zM591.69 310.65v-4.65h3.67v4.65zM595.33 306.05v-5.05h3.67v5.05zM598.98 298.92v-4.77h3.67v4.77zM602.63 301.64v-4.74h3.67v4.74zM606.28 317.17v-2.77h3.67v2.77zM609.93 321.83v-3.18h3.67v3.18zM613.58 321.36v-2.96h3.67v2.96zM617.23 317.49v-2.59h3.67v2.59zM620.88 323.69v-3.29h3.67v3.29zM624.53 320.43v-2.73h3.67v2.73zM628.18 315.4v-3.4h3.67v3.4zM631.82 331.1v-2.95h3.67v2.95zM635.47 332.69v-2.39h3.67v2.39zM639.12 325.53v-2.38h3.67v2.38zM642.77 324.54v-2.04h3.67v2.04zM646.42 326.19v-2.39h3.67v2.39zM650.07 325.64v-1.84h3.67v1.84zM653.72 327.3v-1.9h3.67v1.9zM657.37 335.24v-2.09h3.67v2.09zM661.02 339.72v-1.57h3.67v1.57zM664.67 320.19v-2.04h3.67v2.04zM668.31 340.34v-1.19h3.67v1.19zM671.96 331.89v-2.24h3.67v2.24zM675.61 327.19v-2.19h3.67v2.19zM679.26 329.66v-1.76h3.67v1.76zM682.91 332.71v-2.31h3.67v2.31zM686.56 334.83v-2.33h3.67v2.33zM690.21 333.52v-2.02h3.67v2.02zM693.86 333.5v-2.2h3.67v2.2zM697.51 333.42v-1.77h3.67v1.77zM701.16 331.24v-1.84h3.67v1.84zM704.8 331.76v-1.76h3.67v1.76zM708.45 333.34v-1.84h3.67v1.84zM712.1 336.4v-2h3.67v2zM715.75 336.53v-2.38h3.67v2.38zM719.4 339.64v-1.49h3.67v1.49zM723.05 331.78v-1.98h3.67v1.98zM726.7 336.21v-1.81h3.67v1.81zM730.35 337.47v-2.47h3.67v2.47zM734 339.31v-1.81h3.67v1.81zM737.65 337.6v-1.8h3.67v1.8zM741.29 336.72v-1.92h3.67v1.92zM744.94 336.69v-0.79h3.67v0.79zM748.59 323.95v-1.05h3.67v1.05zM752.24 324.59v-0.79h3.67v0.79zM755.89 322.05v-0.75h3.67v0.75zM759.54 325.86v-1.06h3.67v1.06zM763.19 332.26v-0.96h3.67v0.96zM766.84 323.01v-0.86h3.67v0.86zM770.49 321.39v-0.99h3.67v0.99zM774.14 321.39v-0.99h3.67v0.99zM777.78 325.61v-0.81h3.67v0.81zM781.43 314.46v-1.06h3.67v1.06zM785.08 321.4v-1h3.67v1zM788.73 325.98v-0.98h3.67v0.98zM792.38 330.31v-0.91h3.67v0.91zM796.03 324.55v-0.75h3.67v0.75zM799.68 321.14v-0.74h3.67v0.74zM803.33 319.01v-0.86h3.67v0.86zM806.98 314.58v-0.78h3.67v0.78zM810.63 318.44v-0.94h3.67v0.94zM814.27 323.66v-0.76h3.67v0.76zM817.92 328.22v-0.72h3.67v0.72zM821.57 323.86v-0.71h3.67v0.71zM825.22 317.22v-0.92h3.67v0.92zM828.87 317.44v-0.79h3.67v0.79zM832.52 316.54v-0.89h3.67v0.89zM836.17 317.5v-0.85h3.67v0.85zM839.82 320.53v-0.88h3.67v0.88zM843.47 323.29v-0.79h3.67v0.79zM847.12 316.53v-0.88h3.67v0.88zM850.76 313.69v-0.89h3.67v0.89zM854.41 312.77v-0.77h3.67v0.77zM858.06 316.94v-1.04h3.67v1.04zM861.71 317.88v-0.78h3.67v0.78zM865.36 311.9v-1h3.67v1zM869.01 320.46v-1.06h3.67v1.06zM872.66 312.17v-0.92h3.67v0.92zM876.31 310.15v-1.05h3.67v1.05zM879.96 312.94v-1.04h3.67v1.04zM883.61 316.91v-1.01h3.67v1.01zM887.25 305.43v-0.83h3.67v0.83zM890.9 317.42v-0.82h3.67v0.82zM894.55 302.63v-1.03h3.67v1.03zM898.2 307.43v-0.93h3.67v0.93zM901.85 303.54v-1.04h3.67v1.04zM905.5 291.51v-0.91h3.67v0.91zM909.15 305.4v-0.8h3.67v0.8zM912.8 306.57v-0.97h3.67v0.97zM916.45 318.37v-1.12h3.67v1.12zM920.1 304.87v-1.12h3.67v1.12zM923.74 315.12v-1.12h3.67v1.12zM927.39 302.11v-1.21h3.67v1.21zM931.04 307.8v-1.2h3.67v1.2zM934.69 298.64v-1.14h3.67v1.14zM938.34 302.18v-1.18h3.67v1.18zM941.99 313.84v-1.09h3.67v1.09zM945.64 301.85v-1.25h3.67v1.25zM949.29 306.72v-1.12h3.67v1.12zM952.94 289.06v-0.96h3.67v0.96zM956.59 298.03v-0.93h3.67v0.93zM960.23 305.17v-1.17h3.67v1.17zM963.88 282.66v-0.96h3.67v0.96zM967.53 293.46v-0.96h3.67v0.96zM971.18 298.34v-1.44h3.67v1.44zM974.83 290.79v-1.59h3.67v1.59zM978.48 282.21v-1.41h3.67v1.41zM982.13 275.26v-1.51h3.67v1.51zM985.78 280.23v-1.73h3.67v1.73zM989.43 238.66v-3.91h3.67v3.91zM993.08 241.08v-4.18h3.67v4.18zM996.72 258.8v-4.4h3.67v4.4zM1000.37 252.2v-4.7h3.67v4.7zM1004.02 240.93v-3.43h3.67v3.43zM1007.67 220v-4.75h3.67v4.75zM1011.32 221.9v-5.4h3.67v5.4zM1014.97 227.5v-5h3.67v5zM1018.62 253.75v-5.25h3.67v5.25zM1022.27 235.65v-4.4h3.67v4.4zM1025.92 206.25v-7.5h3.67v7.5zM1029.57 226.85v-6.25h3.67v6.25zM1033.21 192.75v-6.5h3.67v6.5zM1036.86 190.25v-7.5h3.67v7.5zM1040.51 208.75v-6.5h3.67v6.5zM1044.16 192.4v-7h3.67v7zM1047.81 174.4v-10h3.67v10z"/>
<path fill="#6a8dbc" d="M300.33 343.4v-0h2.55v0zM303.97 343.4v-0h2.55v0zM307.62 343.4v-0h2.55v0zM311.27 343.4v-0h2.55v0zM314.92 343.4v-0h2.55v0zM318.57 343.4v-0h2.55v0zM322.22 343.4v-0h2.55v0zM325.87 343.4v-0h2.55v0zM329.52 343.4v-0h2.55v0zM333.17 343.4v-1.24h2.55v1.24zM336.82 343.4v-1.67h2.55v1.67zM340.46 343.4v-2.73h2.55v2.73zM344.11 343.4v-4.46h2.55v4.46zM347.76 343.4v-5.64h2.55v5.64zM351.41 343.4v-6.76h2.55v6.76zM355.06 343.4v-2.85h2.55v2.85zM358.71 343.4v-9.14h2.55v9.14zM362.36 343.4v-20.91h2.55v20.91zM366.01 343.4v-19.8h2.55v19.8zM369.66 343.4v-22.28h2.55v22.28zM373.31 343.4v-31.92h2.55v31.92zM376.95 343.4v-20.35h2.55v20.35zM380.6 343.4v-29.99h2.55v29.99zM384.25 343.4v-43.36h2.55v43.36zM387.9 343.4v-44.56h2.55v44.56zM391.55 343.4v-65.65h2.55v65.65zM395.2 343.4v-90.3h2.55v90.3zM398.85 343.4v-78.76h2.55v78.76zM402.5 343.4v-75.54h2.55v75.54zM406.15 343.4v-81.24h2.55v81.24zM409.8 343.4v-93.54h2.55v93.54zM413.44 343.4v-131.6h2.55v131.6zM417.09 343.4v-129.75h2.55v129.75zM420.74 343.4v-130h2.55v130zM424.39 343.4v-105.95h2.55v105.95zM428.04 343.4v-186h2.55v186zM431.69 343.4v-115.25h2.55v115.25zM435.34 343.4v-108.25h2.55v108.25zM438.99 343.4v-174.15h2.55v174.15zM442.64 343.4v-138.8h2.55v138.8zM446.29 343.4v-155h2.55v155zM449.93 343.4v-139.6h2.55v139.6zM453.58 343.4v-134.1h2.55v134.1zM457.23 343.4v-108.55h2.55v108.55zM460.88 343.4v-140.2h2.55v140.2zM464.53 343.4v-116.55h2.55v116.55zM468.18 343.4v-114.1h2.55v114.1zM471.83 343.4v-144.7h2.55v144.7zM475.48 343.4v-130.9h2.55v130.9zM479.13 343.4v-132.2h2.55v132.2zM482.78 343.4v-87.7h2.55v87.7zM486.42 343.4v-111h2.55v111zM490.07 343.4v-110.75h2.55v110.75zM493.72 343.4v-112.85h2.55v112.85zM497.37 343.4v-109.5h2.55v109.5zM501.02 343.4v-102.9h2.55v102.9zM504.67 343.4v-78.6h2.55v78.6zM508.32 343.4v-81.71h2.55v81.71zM511.97 343.4v-71.26h2.55v71.26zM515.62 343.4v-51.35h2.55v51.35zM519.26 343.4v-95.24h2.55v95.24zM522.91 343.4v-90.5h2.55v90.5zM526.56 343.4v-82.71h2.55v82.71zM530.21 343.4v-71.78h2.55v71.78zM533.86 343.4v-52.98h2.55v52.98zM537.51 343.4v-63.66h2.55v63.66zM541.16 343.4v-59.95h2.55v59.95zM544.81 343.4v-76.5h2.55v76.5zM548.46 343.4v-62.1h2.55v62.1zM552.11 343.4v-50.02h2.55v50.02zM555.75 343.4v-43.75h2.55v43.75zM559.4 343.4v-32.1h2.55v32.1zM563.05 343.4v-38.42h2.55v38.42zM566.7 343.4v-43.59h2.55v43.59zM570.35 343.4v-45.59h2.55v45.59zM574 343.4v-40.34h2.55v40.34zM577.65 343.4v-46.55h2.55v46.55zM581.3 343.4v-29.16h2.55v29.16zM584.95 343.4v-24.81h2.55v24.81zM588.6 343.4v-29.32h2.55v29.32zM592.25 343.4v-26.93h2.55v26.93zM595.89 343.4v-30.92h2.55v30.92zM599.54 343.4v-39.43h2.55v39.43zM603.19 343.4v-35.12h2.55v35.12zM606.84 343.4v-23.52h2.55v23.52zM610.49 343.4v-19.15h2.55v19.15zM614.14 343.4v-19.5h2.55v19.5zM617.79 343.4v-23.46h2.55v23.46zM621.44 343.4v-17.2h2.55v17.2zM625.09 343.4v-20.26h2.55v20.26zM628.74 343.4v-25.53h2.55v25.53zM632.38 343.4v-9.47h2.55v9.47zM636.03 343.4v-9.07h2.55v9.07zM639.68 343.4v-16.47h2.55v16.47zM643.33 343.4v-17.43h2.55v17.43zM646.98 343.4v-15.51h2.55v15.51zM650.63 343.4v-16.4h2.55v16.4zM654.28 343.4v-14.72h2.55v14.72zM657.93 343.4v-6.62h2.55v6.62zM661.58 343.4v-2.62h2.55v2.62zM665.23 343.4v-21.77h2.55v21.77zM668.87 343.4v-2.12h2.55v2.12zM672.52 343.4v-10h2.55v10zM676.17 343.4v-14.63h2.55v14.63zM679.82 343.4v-12.06h2.55v12.06zM683.47 343.4v-9.03h2.55v9.03zM687.12 343.4v-7.12h2.55v7.12zM690.77 343.4v-8.55h2.55v8.55zM694.42 343.4v-8.59h2.55v8.59zM698.07 343.4v-8.6h2.55v8.6zM701.72 343.4v-10.72h2.55v10.72zM705.36 343.4v-10.35h2.55v10.35zM709.01 343.4v-8.74h2.55v8.74zM712.66 343.4v-5.71h2.55v5.71zM716.31 343.4v-5.32h2.55v5.32zM719.96 343.4v-2.63h2.55v2.63zM723.61 343.4v-10.17h2.55v10.17zM727.26 343.4v-5.53h2.55v5.53zM730.91 343.4v-4.44h2.55v4.44zM734.56 343.4v-2.95h2.55v2.95zM738.21 343.4v-4.37h2.55v4.37zM741.85 343.4v-5.04h2.55v5.04zM745.5 343.4v-5.85h2.55v5.85zM749.15 343.4v-18.45h2.55v18.45zM752.8 343.4v-17.8h2.55v17.8zM756.45 343.4v-20.35h2.55v20.35zM760.1 343.4v-16.44h2.55v16.44zM763.75 343.4v-10.21h2.55v10.21zM767.4 343.4v-19.49h2.55v19.49zM771.05 343.4v-21h2.55v21zM774.7 343.4v-21.06h2.55v21.06zM778.34 343.4v-16.7h2.55v16.7zM781.99 343.4v-27.84h2.55v27.84zM785.64 343.4v-20.91h2.55v20.91zM789.29 343.4v-16.5h2.55v16.5zM792.94 343.4v-12.14h2.55v12.14zM796.59 343.4v-17.99h2.55v17.99zM800.24 343.4v-21.04h2.55v21.04zM803.89 343.4v-22.95h2.55v22.95zM807.54 343.4v-27.37h2.55v27.37zM811.19 343.4v-23.51h2.55v23.51zM814.83 343.4v-18.53h2.55v18.53zM818.48 343.4v-13.98h2.55v13.98zM822.13 343.4v-18.19h2.55v18.19zM825.78 343.4v-24.77h2.55v24.77zM829.43 343.4v-24.61h2.55v24.61zM833.08 343.4v-25.7h2.55v25.7zM836.73 343.4v-24.47h2.55v24.47zM840.38 343.4v-21.49h2.55v21.49zM844.03 343.4v-18.91h2.55v18.91zM847.68 343.4v-25.62h2.55v25.62zM851.32 343.4v-28.26h2.55v28.26zM854.97 343.4v-29.36h2.55v29.36zM858.62 343.4v-23.72h2.55v23.72zM862.27 343.4v-22.92h2.55v22.92zM865.92 343.4v-28.92h2.55v28.92zM869.57 343.4v-20.19h2.55v20.19zM873.22 343.4v-28.93h2.55v28.93zM876.87 343.4v-30.44h2.55v30.44zM880.52 343.4v-27.68h2.55v27.68zM884.17 343.4v-24.06h2.55v24.06zM887.81 343.4v-35.41h2.55v35.41zM891.46 343.4v-23.45h2.55v23.45zM895.11 343.4v-38.18h2.55v38.18zM898.76 343.4v-33.04h2.55v33.04zM902.41 343.4v-37.15h2.55v37.15zM906.06 343.4v-49.52h2.55v49.52zM909.71 343.4v-35.53h2.55v35.53zM913.36 343.4v-32.63h2.55v32.63zM917.01 343.4v-21.08h2.55v21.08zM920.66 343.4v-34.37h2.55v34.37zM924.3 343.4v-24.53h2.55v24.53zM927.95 343.4v-37.15h2.55v37.15zM931.6 343.4v-31.14h2.55v31.14zM935.25 343.4v-40.64h2.55v40.64zM938.9 343.4v-37.15h2.55v37.15zM942.55 343.4v-24.94h2.55v24.94zM946.2 343.4v-37.17h2.55v37.17zM949.85 343.4v-31.98h2.55v31.98zM953.5 343.4v-50.63h2.55v50.63zM957.15 343.4v-41.74h2.55v41.74zM960.79 343.4v-33.65h2.55v33.65zM964.44 343.4v-56.35h2.55v56.35zM968.09 343.4v-45.23h2.55v45.23zM971.74 343.4v-38.29h2.55v38.29zM975.39 343.4v-45.44h2.55v45.44zM979.04 343.4v-55.08h2.55v55.08zM982.69 343.4v-62.52h2.55v62.52zM986.34 343.4v-57.62h2.55v57.62zM989.99 343.4v-97.37h2.55v97.37zM993.64 343.4v-94.27h2.55v94.27zM997.28 343.4v-75.85h2.55v75.85zM1000.93 343.4v-81.62h2.55v81.62zM1004.58 343.4v-94.93h2.55v94.93zM1008.23 343.4v-114.7h2.55v114.7zM1011.88 343.4v-109.65h2.55v109.65zM1015.53 343.4v-103.4h2.55v103.4zM1019.18 343.4v-82.15h2.55v82.15zM1022.83 343.4v-96h2.55v96zM1026.48 343.4v-124h2.55v124zM1030.12 343.4v-100.95h2.55v100.95zM1033.77 343.4v-137.75h2.55v137.75zM1037.42 343.4v-133.15h2.55v133.15zM1041.07 343.4v-120.3h2.55v120.3zM1044.72 343.4v-135.9h2.55v135.9zM1048.37 343.4v-152.9h2.55v152.9z"/>
<path fill="#f3dc7a" d="M362.36 322.49v-0.2h2.55v0.2zM366.01 323.6v-0.18h2.55v0.18zM369.66 321.12v-0.21h2.55v0.21zM373.31 311.48v-0.3h2.55v0.3zM376.95 323.05v-0.19h2.55v0.19zM380.6 313.4v-0.28h2.55v0.28zM384.25 300.04v-1.01h2.55v1.01zM387.9 298.84v-1.04h2.55v1.04zM391.55 277.75v-1.53h2.55v1.53zM395.2 253.1v-2h2.55v2zM398.85 264.64v-1.84h2.55v1.84zM402.5 267.86v-1.76h2.55v1.76zM406.15 262.16v-1.9h2.55v1.9zM409.8 249.86v-2.18h2.55v2.18zM413.44 211.8v-3.75h2.55v3.75zM417.09 213.65v-3.75h2.55v3.75zM420.74 213.4v-5h2.55v5zM424.39 237.45v-3.75h2.55v3.75zM428.04 157.4v-3.1h2.55v3.1zM431.69 228.15v-3.1h2.55v3.1zM435.34 235.15v-3.75h2.55v3.75zM438.99 169.25v-3.1h2.55v3.1zM442.64 204.6v-4.4h2.55v4.4zM446.29 188.4v-4.3h2.55v4.3zM449.93 203.8v-4.4h2.55v4.4zM453.58 209.3v-2.5h2.55v2.5zM457.23 234.85v-3.75h2.55v3.75zM460.88 203.2v-3.1h2.55v3.1zM464.53 226.85v-3.75h2.55v3.75zM468.18 229.3v-3.75h2.55v3.75zM471.83 198.7v-3.8h2.55v3.8zM475.48 212.5v-4.4h2.55v4.4zM479.13 211.2v-4.4h2.55v4.4zM482.78 255.7v-2.5h2.55v2.5zM486.42 232.4v-3.1h2.55v3.1zM490.07 232.65v-3.75h2.55v3.75zM493.72 230.55v-4.4h2.55v4.4zM497.37 233.9v-3.75h2.55v3.75zM501.02 240.5v-4.4h2.55v4.4zM504.67 264.8v-3.1h2.55v3.1zM508.32 261.69v-2.9h2.55v2.9zM511.97 272.14v-2.58h2.55v2.58zM515.62 292.05v-2.22h2.55v2.22zM519.26 248.16v-2.23h2.55v2.23zM522.91 252.9v-3h2.55v3zM526.56 260.69v-2.18h2.55v2.18zM530.21 271.62v-2.88h2.55v2.88zM533.86 290.42v-2.85h2.55v2.85zM537.51 279.74v-2.2h2.55v2.2zM541.16 283.45v-2.18h2.55v2.18zM544.81 266.9v-3h2.55v3zM548.46 281.3v-2.31h2.55v2.31zM552.11 293.38v-1.12h2.55v1.12zM555.75 299.65v-0.98h2.55v0.98zM559.4 311.3v-1.03h2.55v1.03zM563.05 304.98v-1.02h2.55v1.02zM566.7 299.81v-1h2.55v1zM570.35 297.81v-1.25h2.55v1.25zM574 303.06v-1.29h2.55v1.29zM577.65 296.85v-1.2h2.55v1.2zM581.3 314.24v-0.92h2.55v0.92zM584.95 318.59v-1.13h2.55v1.13zM588.6 314.08v-1.18h2.55v1.18zM592.25 316.47v-1.08h2.55v1.08zM595.89 312.48v-1.09h2.55v1.09zM599.54 303.97v-1.18h2.55v1.18zM603.19 308.28v-1.23h2.55v1.23zM606.84 319.88v-0.6h2.55v0.6zM610.49 324.25v-0.6h2.55v0.6zM614.14 323.9v-0.6h2.55v0.6zM617.79 319.94v-0.6h2.55v0.6zM621.44 326.2v-0.6h2.55v0.6zM625.09 323.14v-0.6h2.55v0.6zM628.74 317.87v-0.6h2.55v0.6zM632.38 333.93v-0.6h2.55v0.6zM636.03 334.33v-0.3h2.55v0.3zM639.68 326.93v-0.3h2.55v0.3zM643.33 325.97v-0.3h2.55v0.3zM646.98 327.89v-0.3h2.55v0.3zM650.63 327v-0.3h2.55v0.3zM654.28 328.68v-0.3h2.55v0.3zM657.93 336.78v-0.3h2.55v0.3zM661.58 340.77v-0.25h2.55v0.25zM665.23 321.63v-0.3h2.55v0.3zM668.87 341.27v-0.17h2.55v0.17zM672.52 333.4v-0.3h2.55v0.3zM676.17 328.77v-0.3h2.55v0.3zM679.82 331.34v-0.3h2.55v0.3zM683.47 334.37v-0.3h2.55v0.3zM687.12 336.28v-0.3h2.55v0.3zM690.77 334.85v-0.3h2.55v0.3zM694.42 334.81v-0.3h2.55v0.3zM698.07 334.8v-0.3h2.55v0.3zM701.72 332.68v-0.3h2.55v0.3zM705.36 333.05v-0.3h2.55v0.3zM709.01 334.66v-0.3h2.55v0.3zM712.66 337.69v-0.3h2.55v0.3zM716.31 338.08v-0.3h2.55v0.3zM719.96 340.77v-0.24h2.55v0.24zM723.61 333.23v-0.3h2.55v0.3zM727.26 337.87v-0.3h2.55v0.3zM730.91 338.96v-0.3h2.55v0.3zM734.56 340.45v-0.26h2.55v0.26zM738.21 339.03v-0.3h2.55v0.3zM741.85 338.36v-0.3h2.55v0.3zM745.5 337.55v-0.2h2.55v0.2zM749.15 324.95v-0.2h2.55v0.2zM752.8 325.6v-0.2h2.55v0.2zM756.45 323.05v-0.2h2.55v0.2zM760.1 326.96v-0.2h2.55v0.2zM763.75 333.19v-0.2h2.55v0.2zM767.4 323.91v-0.2h2.55v0.2zM771.05 322.4v-0.2h2.55v0.2zM774.7 322.34v-0.2h2.55v0.2zM778.34 326.7v-0.2h2.55v0.2zM781.99 315.56v-0.2h2.55v0.2zM785.64 322.49v-0.2h2.55v0.2zM789.29 326.9v-0.2h2.55v0.2zM792.94 331.26v-0.2h2.55v0.2zM796.59 325.41v-0.2h2.55v0.2zM800.24 322.36v-0.4h2.55v0.4zM803.89 320.45v-0.4h2.55v0.4zM807.54 316.03v-0.4h2.55v0.4zM811.19 319.89v-0.4h2.55v0.4zM814.83 324.87v-0.4h2.55v0.4zM818.48 329.42v-0.4h2.55v0.4zM822.13 325.21v-0.4h2.55v0.4zM825.78 318.63v-0.4h2.55v0.4zM829.43 318.79v-0.4h2.55v0.4zM833.08 317.7v-0.4h2.55v0.4zM836.73 318.93v-0.4h2.55v0.4zM840.38 321.91v-0.4h2.55v0.4zM844.03 324.49v-0.4h2.55v0.4zM847.68 317.78v-0.4h2.55v0.4zM851.32 315.14v-0.4h2.55v0.4zM854.97 314.04v-0.4h2.55v0.4zM858.62 319.68v-0.79h2.55v0.79zM862.27 320.48v-1.03h2.55v1.03zM865.92 314.48v-1.01h2.55v1.01zM869.57 323.21v-0.85h2.55v0.85zM873.22 314.47v-0.74h2.55v0.74zM876.87 312.96v-0.91h2.55v0.91zM880.52 315.72v-1.02h2.55v1.02zM884.17 319.34v-0.82h2.55v0.82zM887.81 307.99v-0.93h2.55v0.93zM891.46 319.95v-0.78h2.55v0.78zM895.11 305.22v-0.89h2.55v0.89zM898.76 310.36v-0.87h2.55v0.87zM902.41 306.25v-0.91h2.55v0.91zM906.06 293.88v-0.88h2.55v0.88zM909.71 307.87v-1h2.55v1zM913.36 310.77v-1.62h2.55v1.62zM917.01 322.32v-1.51h2.55v1.51zM920.66 309.03v-1.29h2.55v1.29zM924.3 318.87v-1.38h2.55v1.38zM927.95 306.25v-1.53h2.55v1.53zM931.6 312.26v-1.47h2.55v1.47zM935.25 302.76v-1.51h2.55v1.51zM938.9 306.25v-1.52h2.55v1.52zM942.55 318.46v-1.61h2.55v1.61zM946.2 306.23v-1.37h2.55v1.37zM949.85 311.42v-1.68h2.55v1.68zM953.5 292.77v-1.47h2.55v1.47zM957.15 301.66v-1.27h2.55v1.27zM960.79 309.75v-1.71h2.55v1.71zM964.44 287.05v-1.59h2.55v1.59zM968.09 298.17v-1.75h2.55v1.75zM971.74 305.11v-2.12h2.55v2.12zM975.39 297.96v-2.46h2.55v2.46zM979.04 288.32v-2.21h2.55v2.21zM982.69 280.88v-2.06h2.55v2.06zM986.34 285.78v-2.24h2.55v2.24zM989.99 246.03v-2.82h2.55v2.82zM993.64 249.13v-2.53h2.55v2.53zM997.28 267.55v-2.5h2.55v2.5zM1000.93 261.78v-3.51h2.55v3.51zM1004.58 248.47v-2.5h2.55v2.5zM1008.23 228.7v-3.1h2.55v3.1zM1011.88 233.75v-3.1h2.55v3.1zM1015.53 240v-2.5h2.55v2.5zM1019.18 261.25v-3.1h2.55v3.1zM1022.83 247.4v-3h2.55v3zM1026.48 219.4v-4.4h2.55v4.4zM1030.12 242.45v-5.6h2.55v5.6zM1033.77 205.65v-4.4h2.55v4.4zM1037.42 210.25v-8h2.55v8zM1041.07 223.1v-5.6h2.55v5.6zM1044.72 207.5v-5.6h2.55v5.6zM1048.37 190.5v-2.5h2.55v2.5z"/>
<path fill="#1d2f6f" d="M300.33 343.4v-0.26h2.55v0.26zM303.97 343.4v-0.85h2.55v0.85zM307.62 343.4v-0.34h2.55v0.34zM311.27 343.4v-0.94h2.55v0.94zM314.92 343.4v-0.94h2.55v0.94zM318.57 343.4v-1.02h2.55v1.02zM322.22 343.4v-1.02h2.55v1.02zM325.87 343.4v-1.36h2.55v1.36zM329.52 343.4v-0.34h2.55v0.34zM333.17 342.16v-0.4h2.55v0.4zM336.82 341.73v-0.54h2.55v0.54zM340.46 340.67v-0.88h2.55v0.88zM344.11 338.94v-1.44h2.55v1.44zM347.76 337.76v-1.82h2.55v1.82zM351.41 336.64v-2.18h2.55v2.18zM355.06 340.55v-0.92h2.55v0.92zM358.71 334.25v-2.95h2.55v2.95zM362.36 322.29v-1.46h2.55v1.46zM366.01 323.42v-1.39h2.55v1.39zM369.66 320.91v-1.56h2.55v1.56zM373.31 311.18v-2.23h2.55v2.23zM376.95 322.86v-1.43h2.55v1.43zM380.6 313.12v-2.1h2.55v2.1zM384.25 299.02v-2.93h2.55v2.93zM387.9 297.8v-3.02h2.55v3.02zM391.55 276.22v-4.44h2.55v4.44zM395.2 251.1v-5.6h2.55v5.6zM398.85 262.8v-5.33h2.55v5.33zM402.5 266.09v-5.11h2.55v5.11zM406.15 260.26v-5.5h2.55v5.5zM409.8 247.68v-6.33h2.55v6.33zM413.44 208.05v-12.5h2.55v12.5zM417.09 209.9v-11.25h2.55v11.25zM420.74 208.4v-17.25h2.55v17.25zM424.39 233.7v-11.9h2.55v11.9zM428.04 154.3v-13.8h2.55v13.8zM431.69 225.05v-8.75h2.55v8.75zM435.34 231.4v-9.4h2.55v9.4zM438.99 166.15v-12.5h2.55v12.5zM442.64 200.2v-14.4h2.55v14.4zM446.29 184.1v-10.1h2.55v10.1zM449.93 199.4v-13h2.55v13zM453.58 206.8v-14h2.55v14zM457.23 231.1v-5.6h2.55v5.6zM460.88 200.1v-11.2h2.55v11.2zM464.53 223.1v-13.1h2.55v13.1zM468.18 225.55v-12.5h2.55v12.5zM471.83 194.9v-13h2.55v13zM475.48 208.1v-15.2h2.55v15.2zM479.13 206.8v-15.9h2.55v15.9zM482.78 253.2v-9.4h2.55v9.4zM486.42 229.3v-7.5h2.55v7.5zM490.07 228.9v-13.1h2.55v13.1zM493.72 226.15v-13.75h2.55v13.75zM497.37 230.15v-10h2.55v10zM501.02 236.1v-12.5h2.55v12.5zM504.67 261.7v-9.4h2.55v9.4zM508.32 258.79v-9.01h2.55v9.01zM511.97 269.57v-10.25h2.55v10.25zM515.62 289.83v-9.95h2.55v9.95zM519.26 245.92v-8.22h2.55v8.22zM522.91 249.9v-11h2.55v11zM526.56 258.5v-10.45h2.55v10.45zM530.21 268.74v-9.57h2.55v9.57zM533.86 287.57v-8.63h2.55v8.63zM537.51 277.54v-9.9h2.55v9.9zM541.16 281.28v-7.4h2.55v7.4zM544.81 263.9v-8h2.55v8zM548.46 278.99v-7.25h2.55v7.25zM552.11 292.26v-4.39h2.55v4.39zM555.75 298.66v-3.87h2.55v3.87zM559.4 310.27v-4.48h2.55v4.48zM563.05 303.96v-4.52h2.55v4.52zM566.7 298.81v-4.93h2.55v4.93zM570.35 296.56v-4.64h2.55v4.64zM574 301.77v-4.25h2.55v4.25zM577.65 295.65v-4.46h2.55v4.46zM581.3 313.32v-4.58h2.55v4.58zM584.95 317.46v-5.04h2.55v5.04zM588.6 312.9v-4.29h2.55v4.29zM592.25 315.39v-4.73h2.55v4.73zM595.89 311.39v-5.34h2.55v5.34zM599.54 302.79v-3.87h2.55v3.87zM603.19 307.05v-5.42h2.55v5.42zM606.84 319.28v-2.11h2.55v2.11zM610.49 323.65v-1.82h2.55v1.82zM614.14 323.3v-1.94h2.55v1.94zM617.79 319.34v-1.85h2.55v1.85zM621.44 325.6v-1.91h2.55v1.91zM625.09 322.54v-2.11h2.55v2.11zM628.74 317.27v-1.87h2.55v1.87zM632.38 333.33v-2.24h2.55v2.24zM636.03 334.03v-1.34h2.55v1.34zM639.68 326.63v-1.1h2.55v1.1zM643.33 325.67v-1.14h2.55v1.14zM646.98 327.59v-1.4h2.55v1.4zM650.63 326.7v-1.06h2.55v1.06zM654.28 328.38v-1.08h2.55v1.08zM657.93 336.48v-1.24h2.55v1.24zM661.58 340.53v-0.81h2.55v0.81zM665.23 321.33v-1.14h2.55v1.14zM668.87 341.11v-0.77h2.55v0.77zM672.52 333.1v-1.21h2.55v1.21zM676.17 328.47v-1.28h2.55v1.28zM679.82 331.04v-1.37h2.55v1.37zM683.47 334.07v-1.36h2.55v1.36zM687.12 335.98v-1.15h2.55v1.15zM690.77 334.55v-1.03h2.55v1.03zM694.42 334.51v-1.01h2.55v1.01zM698.07 334.5v-1.07h2.55v1.07zM701.72 332.38v-1.13h2.55v1.13zM705.36 332.75v-0.98h2.55v0.98zM709.01 334.36v-1.03h2.55v1.03zM712.66 337.39v-1h2.55v1zM716.31 337.78v-1.25h2.55v1.25zM719.96 340.53v-0.89h2.55v0.89zM723.61 332.93v-1.14h2.55v1.14zM727.26 337.57v-1.35h2.55v1.35zM730.91 338.66v-1.19h2.55v1.19zM734.56 340.19v-0.88h2.55v0.88zM738.21 338.73v-1.13h2.55v1.13zM741.85 338.06v-1.34h2.55v1.34zM745.5 337.35v-0.66h2.55v0.66zM749.15 324.75v-0.81h2.55v0.81zM752.8 325.4v-0.81h2.55v0.81zM756.45 322.85v-0.81h2.55v0.81zM760.1 326.76v-0.9h2.55v0.9zM763.75 332.99v-0.73h2.55v0.73zM767.4 323.71v-0.7h2.55v0.7zM771.05 322.2v-0.81h2.55v0.81zM774.7 322.14v-0.75h2.55v0.75zM778.34 326.5v-0.89h2.55v0.89zM781.99 315.36v-0.9h2.55v0.9zM785.64 322.29v-0.89h2.55v0.89zM789.29 326.7v-0.72h2.55v0.72zM792.94 331.06v-0.76h2.55v0.76zM796.59 325.21v-0.66h2.55v0.66zM800.24 321.96v-0.82h2.55v0.82zM803.89 320.05v-1.05h2.55v1.05zM807.54 315.63v-1.04h2.55v1.04zM811.19 319.49v-1.05h2.55v1.05zM814.83 324.47v-0.81h2.55v0.81zM818.48 329.02v-0.8h2.55v0.8zM822.13 324.81v-0.94h2.55v0.94zM825.78 318.23v-1.01h2.55v1.01zM829.43 318.39v-0.95h2.55v0.95zM833.08 317.3v-0.77h2.55v0.77zM836.73 318.53v-1.03h2.55v1.03zM840.38 321.51v-0.98h2.55v0.98zM844.03 324.09v-0.8h2.55v0.8zM847.68 317.38v-0.85h2.55v0.85zM851.32 314.74v-1.05h2.55v1.05zM854.97 313.64v-0.87h2.55v0.87zM858.62 318.89v-1.95h2.55v1.95zM862.27 319.45v-1.57h2.55v1.57zM865.92 313.47v-1.57h2.55v1.57zM869.57 322.36v-1.9h2.55v1.9zM873.22 313.73v-1.56h2.55v1.56zM876.87 312.05v-1.9h2.55v1.9zM880.52 314.7v-1.76h2.55v1.76zM884.17 318.52v-1.61h2.55v1.61zM887.81 307.06v-1.63h2.55v1.63zM891.46 319.17v-1.75h2.55v1.75zM895.11 304.34v-1.71h2.55v1.71zM898.76 309.49v-2.06h2.55v2.06zM902.41 305.34v-1.8h2.55v1.8zM906.06 293v-1.49h2.55v1.49zM909.71 306.88v-1.48h2.55v1.48zM913.36 309.15v-2.58h2.55v2.58zM917.01 320.81v-2.44h2.55v2.44zM920.66 307.74v-2.87h2.55v2.87zM924.3 317.49v-2.36h2.55v2.36zM927.95 304.72v-2.61h2.55v2.61zM931.6 310.79v-2.99h2.55v2.99zM935.25 301.25v-2.61h2.55v2.61zM938.9 304.73v-2.56h2.55v2.56zM942.55 316.85v-3.01h2.55v3.01zM946.2 304.86v-3.01h2.55v3.01zM949.85 309.74v-3.01h2.55v3.01zM953.5 291.3v-2.25h2.55v2.25zM957.15 300.39v-2.36h2.55v2.36zM960.79 308.03v-2.87h2.55v2.87zM964.44 285.47v-2.8h2.55v2.8zM968.09 296.42v-2.96h2.55v2.96zM971.74 302.99v-4.65h2.55v4.65zM975.39 295.5v-4.71h2.55v4.71zM979.04 286.11v-3.9h2.55v3.9zM982.69 278.82v-3.56h2.55v3.56zM986.34 283.54v-3.31h2.55v3.31zM989.99 243.21v-4.55h2.55v4.55zM993.64 246.6v-5.52h2.55v5.52zM997.28 265.05v-6.25h2.55v6.25zM1000.93 258.27v-6.07h2.55v6.07zM1004.58 245.97v-5.04h2.55v5.04zM1008.23 225.6v-5.6h2.55v5.6zM1011.88 230.65v-8.75h2.55v8.75zM1015.53 237.5v-10h2.55v10zM1019.18 258.15v-4.4h2.55v4.4zM1022.83 244.4v-8.75h2.55v8.75zM1026.48 215v-8.75h2.55v8.75zM1030.12 236.85v-10h2.55v10zM1033.77 201.25v-8.5h2.55v8.5zM1037.42 202.25v-12h2.55v12zM1041.07 217.5v-8.75h2.55v8.75zM1044.72 201.9v-9.5h2.55v9.5zM1048.37 188v-13.6h2.55v13.6zM296.68 343.4v-0.4h2.55v0.4zM289.38 343.4v-0.3h2.55v0.3zM278.43 343.4v-0.3h2.55v0.3zM227.34 343.4v-0.3h2.55v0.3zM190.86 343.4v-0.3h2.55v0.3z"/>
<path fill="#b5513a" d="M303.97 342.55v-0.15h2.55v0.15zM307.62 343.06v-0.06h2.55v0.06zM311.27 342.46v-0.17h2.55v0.17zM314.92 342.46v-0.17h2.55v0.17zM318.57 342.38v-0.18h2.55v0.18zM322.22 342.38v-0.18h2.55v0.18zM325.87 342.04v-0.24h2.55v0.24zM329.52 343.06v-0.06h2.55v0.06zM333.17 341.76v-0.36h2.55v0.36zM336.82 341.19v-0.49h2.55v0.49zM340.46 339.79v-0.79h2.55v0.79zM344.11 337.5v-1.3h2.55v1.3zM347.76 335.94v-1.64h2.55v1.64zM351.41 334.46v-1.96h2.55v1.96zM355.06 339.63v-0.83h2.55v0.83zM358.71 331.31v-2.65h2.55v2.65zM362.36 320.83v-1.83h2.55v1.83zM366.01 322.03v-1.73h2.55v1.73zM369.66 319.35v-1.95h2.55v1.95zM373.31 308.94v-2.79h2.55v2.79zM376.95 321.43v-1.78h2.55v1.78zM380.6 311.02v-2.62h2.55v2.62zM384.25 296.09v-3.29h2.55v3.29zM387.9 294.78v-3.38h2.55v3.38zM391.55 271.78v-4.98h2.55v4.98zM395.2 245.5v-6.5h2.55v6.5zM398.85 257.47v-5.97h2.55v5.97zM402.5 260.98v-5.73h2.55v5.73zM406.15 254.76v-6.16h2.55v6.16zM409.8 241.34v-7.09h2.55v7.09zM413.44 195.55v-9.4h2.55v9.4zM417.09 198.65v-9h2.55v9zM420.74 191.15v-9.75h2.55v9.75zM424.39 221.8v-14h2.55v14zM428.04 140.5v-12.1h2.55v12.1zM431.69 216.3v-10.9h2.55v10.9zM435.34 222v-10.6h2.55v10.6zM438.99 153.65v-10.25h2.55v10.25zM442.64 185.8v-0.4h2.55v0.4zM446.29 174v-17.6h2.55v17.6zM449.93 186.4v-11h2.55v11zM453.58 192.8v-11h2.55v11zM457.23 225.5v-10.6h2.55v10.6zM460.88 188.9v-7.5h2.55v7.5zM464.53 210v-10.6h2.55v10.6zM468.18 213.05v-10.4h2.55v10.4zM471.83 181.9v-8.5h2.55v8.5zM475.48 192.9v-9.5h2.55v9.5zM479.13 190.9v-9.5h2.55v9.5zM482.78 243.8v-9.4h2.55v9.4zM486.42 221.8v-10.9h2.55v10.9zM490.07 215.8v-9.4h2.55v9.4zM493.72 212.4v-8.5h2.55v8.5zM497.37 220.15v-8.75h2.55v8.75zM501.02 223.6v-10.6h2.55v10.6zM504.67 252.3v-5.9h2.55v5.9zM508.32 249.78v-5.63h2.55v5.63zM511.97 259.32v-4.92h2.55v4.92zM515.62 279.88v-4.73h2.55v4.73zM519.26 237.7v-5.3h2.55v5.3zM522.91 238.9v-6h2.55v6zM526.56 248.06v-4.91h2.55v4.91zM530.21 259.17v-4.37h2.55v4.37zM533.86 278.94v-4.79h2.55v4.79zM537.51 267.64v-3.74h2.55v3.74zM541.16 273.88v-3.73h2.55v3.73zM544.81 255.9v-3h2.55v3zM548.46 271.74v-4.34h2.55v4.34zM552.11 287.88v-4.73h2.55v4.73zM555.75 294.79v-3.79h2.55v3.79zM559.4 305.79v-4.79h2.55v4.79zM563.05 299.44v-4.64h2.55v4.64zM566.7 293.88v-4.98h2.55v4.98zM570.35 291.92v-4.62h2.55v4.62zM574 297.52v-4.87h2.55v4.87zM577.65 291.18v-3.88h2.55v3.88zM581.3 308.74v-3.94h2.55v3.94zM584.95 312.42v-4.77h2.55v4.77zM588.6 308.61v-5.11h2.55v5.11zM592.25 310.65v-4.65h2.55v4.65zM595.89 306.05v-5.05h2.55v5.05zM599.54 298.92v-4.77h2.55v4.77zM603.19 301.64v-4.74h2.55v4.74zM606.84 317.17v-2.77h2.55v2.77zM610.49 321.83v-3.18h2.55v3.18zM614.14 321.36v-2.96h2.55v2.96zM617.79 317.49v-2.59h2.55v2.59zM621.44 323.69v-3.29h2.55v3.29zM625.09 320.43v-2.73h2.55v2.73zM628.74 315.4v-3.4h2.55v3.4zM632.38 331.1v-2.95h2.55v2.95zM636.03 332.69v-2.39h2.55v2.39zM639.68 325.53v-2.38h2.55v2.38zM643.33 324.54v-2.04h2.55v2.04zM646.98 326.19v-2.39h2.55v2.39zM650.63 325.64v-1.84h2.55v1.84zM654.28 327.3v-1.9h2.55v1.9zM657.93 335.24v-2.09h2.55v2.09zM661.58 339.72v-1.57h2.55v1.57zM665.23 320.19v-2.04h2.55v2.04zM668.87 340.34v-1.19h2.55v1.19zM672.52 331.89v-2.24h2.55v2.24zM676.17 327.19v-2.19h2.55v2.19zM679.82 329.66v-1.76h2.55v1.76zM683.47 332.71v-2.31h2.55v2.31zM687.12 334.83v-2.33h2.55v2.33zM690.77 333.52v-2.02h2.55v2.02zM694.42 333.5v-2.2h2.55v2.2zM698.07 333.42v-1.77h2.55v1.77zM701.72 331.24v-1.84h2.55v1.84zM705.36 331.76v-1.76h2.55v1.76zM709.01 333.34v-1.84h2.55v1.84zM712.66 336.4v-2h2.55v2zM716.31 336.53v-2.38h2.55v2.38zM719.96 339.64v-1.49h2.55v1.49zM723.61 331.78v-1.98h2.55v1.98zM727.26 336.21v-1.81h2.55v1.81zM730.91 337.47v-2.47h2.55v2.47zM734.56 339.31v-1.81h2.55v1.81zM738.21 337.6v-1.8h2.55v1.8zM741.85 336.72v-1.92h2.55v1.92zM745.5 336.69v-0.79h2.55v0.79zM749.15 323.95v-1.05h2.55v1.05zM752.8 324.59v-0.79h2.55v0.79zM756.45 322.05v-0.75h2.55v0.75zM760.1 325.86v-1.06h2.55v1.06zM763.75 332.26v-0.96h2.55v0.96zM767.4 323.01v-0.86h2.55v0.86zM771.05 321.39v-0.99h2.55v0.99zM774.7 321.39v-0.99h2.55v0.99zM778.34 325.61v-0.81h2.55v0.81zM781.99 314.46v-1.06h2.55v1.06zM785.64 321.4v-1h2.55v1zM789.29 325.98v-0.98h2.55v0.98zM792.94 330.31v-0.91h2.55v0.91zM796.59 324.55v-0.75h2.55v0.75zM800.24 321.14v-0.74h2.55v0.74zM803.89 319.01v-0.86h2.55v0.86zM807.54 314.58v-0.78h2.55v0.78zM811.19 318.44v-0.94h2.55v0.94zM814.83 323.66v-0.76h2.55v0.76zM818.48 328.22v-0.72h2.55v0.72zM822.13 323.86v-0.71h2.55v0.71zM825.78 317.22v-0.92h2.55v0.92zM829.43 317.44v-0.79h2.55v0.79zM833.08 316.54v-0.89h2.55v0.89zM836.73 317.5v-0.85h2.55v0.85zM840.38 320.53v-0.88h2.55v0.88zM844.03 323.29v-0.79h2.55v0.79zM847.68 316.53v-0.88h2.55v0.88zM851.32 313.69v-0.89h2.55v0.89zM854.97 312.77v-0.77h2.55v0.77zM858.62 316.94v-1.04h2.55v1.04zM862.27 317.88v-0.78h2.55v0.78zM865.92 311.9v-1h2.55v1zM869.57 320.46v-1.06h2.55v1.06zM873.22 312.17v-0.92h2.55v0.92zM876.87 310.15v-1.05h2.55v1.05zM880.52 312.94v-1.04h2.55v1.04zM884.17 316.91v-1.01h2.55v1.01zM887.81 305.43v-0.83h2.55v0.83zM891.46 317.42v-0.82h2.55v0.82zM895.11 302.63v-1.03h2.55v1.03zM898.76 307.43v-0.93h2.55v0.93zM902.41 303.54v-1.04h2.55v1.04zM906.06 291.51v-0.91h2.55v0.91zM909.71 305.4v-0.8h2.55v0.8zM913.36 306.57v-0.97h2.55v0.97zM917.01 318.37v-1.12h2.55v1.12zM920.66 304.87v-1.12h2.55v1.12zM924.3 315.12v-1.12h2.55v1.12zM927.95 302.11v-1.21h2.55v1.21zM931.6 307.8v-1.2h2.55v1.2zM935.25 298.64v-1.14h2.55v1.14zM938.9 302.18v-1.18h2.55v1.18zM942.55 313.84v-1.09h2.55v1.09zM946.2 301.85v-1.25h2.55v1.25zM949.85 306.72v-1.12h2.55v1.12zM953.5 289.06v-0.96h2.55v0.96zM957.15 298.03v-0.93h2.55v0.93zM960.79 305.17v-1.17h2.55v1.17zM964.44 282.66v-0.96h2.55v0.96zM968.09 293.46v-0.96h2.55v0.96zM971.74 298.34v-1.44h2.55v1.44zM975.39 290.79v-1.59h2.55v1.59zM979.04 282.21v-1.41h2.55v1.41zM982.69 275.26v-1.51h2.55v1.51zM986.34 280.23v-1.73h2.55v1.73zM989.99 238.66v-3.91h2.55v3.91zM993.64 241.08v-4.18h2.55v4.18zM997.28 258.8v-4.4h2.55v4.4zM1000.93 252.2v-4.7h2.55v4.7zM1004.58 240.93v-3.43h2.55v3.43zM1008.23 220v-4.75h2.55v4.75zM1011.88 221.9v-5.4h2.55v5.4zM1015.53 227.5v-5h2.55v5zM1019.18 253.75v-5.25h2.55v5.25zM1022.83 235.65v-4.4h2.55v4.4zM1026.48 206.25v-7.5h2.55v7.5zM1030.12 226.85v-6.25h2.55v6.25zM1033.77 192.75v-6.5h2.55v6.5zM1037.42 190.25v-7.5h2.55v7.5zM1041.07 208.75v-6.5h2.55v6.5zM1044.72 192.4v-7h2.55v7zM1048.37 174.4v-10h2.55v10z"/>
</g>
<line x1="88" x2="1052" y1="343.8" y2="343.8" stroke="#8b8b8b" stroke-width="1.5"/>
<line x1="195.78" x2="195.78" y1="343.8" y2="349.2" stroke="#8b8b8b" stroke-width="1.2"/>
<line x1="301.6" x2="301.6" y1="343.8" y2="349.2" stroke="#8b8b8b" stroke-width="1.2"/>
<line x1="414.72" x2="414.72" y1="343.8" y2="349.2" stroke="#8b8b8b" stroke-width="1.2"/>
<line x1="524.19" x2="524.19" y1="343.8" y2="349.2" stroke="#8b8b8b" stroke-width="1.2"/>
<line x1="637.31" x2="637.31" y1="343.8" y2="349.2" stroke="#8b8b8b" stroke-width="1.2"/>
<line x1="746.78" x2="746.78" y1="343.8" y2="349.2" stroke="#8b8b8b" stroke-width="1.2"/>
<line x1="859.9" x2="859.9" y1="343.8" y2="349.2" stroke="#8b8b8b" stroke-width="1.2"/>
<line x1="973.02" x2="973.02" y1="343.8" y2="349.2" stroke="#8b8b8b" stroke-width="1.2"/>

<g class="ax">
<text x="71.6" y="347.8" textLength="8" lengthAdjust="spacingAndGlyphs">0</text>
<text x="44" y="311.42" textLength="35.6" lengthAdjust="spacingAndGlyphs">1,000</text>
<text x="44" y="275.04" textLength="35.6" lengthAdjust="spacingAndGlyphs">2,000</text>
<text x="44" y="238.66" textLength="35.6" lengthAdjust="spacingAndGlyphs">3,000</text>
<text x="44" y="202.28" textLength="35.6" lengthAdjust="spacingAndGlyphs">4,000</text>
<text x="44" y="165.9" textLength="35.6" lengthAdjust="spacingAndGlyphs">5,000</text>
<text x="44" y="129.52" textLength="35.6" lengthAdjust="spacingAndGlyphs">6,000</text>
<text x="178.21" y="364.6" textLength="35.13" lengthAdjust="spacingAndGlyphs">01 Feb</text>
<text x="284.04" y="364.6" textLength="35.12" lengthAdjust="spacingAndGlyphs">01 Mar</text>
<text x="398.41" y="364.6" textLength="32.62" lengthAdjust="spacingAndGlyphs">01 Apr</text>
<text x="505.69" y="364.6" textLength="37" lengthAdjust="spacingAndGlyphs">01 May</text>
<text x="620.37" y="364.6" textLength="33.88" lengthAdjust="spacingAndGlyphs">01 Jun</text>
<text x="731.72" y="364.6" textLength="30.11" lengthAdjust="spacingAndGlyphs">01 Jul</text>
<text x="842.33" y="364.6" textLength="35.14" lengthAdjust="spacingAndGlyphs">01 Aug</text>
<text x="955.13" y="364.6" textLength="35.76" lengthAdjust="spacingAndGlyphs">01 Sep</text>
</g>
<g class="lg">
<rect x="101" y="399" width="11" height="11" fill="#b5513a"/><text x="124.8" y="409.8" textLength="38.2" lengthAdjust="spacingAndGlyphs">Wales</text>
<rect x="183.7" y="399" width="11" height="11" fill="#1d2f6f"/><text x="206.8" y="409.8" textLength="57.4" lengthAdjust="spacingAndGlyphs">Scotland</text>
<rect x="284.8" y="399" width="11.2" height="11" fill="#f3d867"/><text x="308.4" y="409.8" textLength="105.8" lengthAdjust="spacingAndGlyphs">Northern Ireland</text>
<rect x="434.6" y="399" width="11.2" height="11" fill="#6e8fc4"/><text x="458" y="409.8" textLength="52.6" lengthAdjust="spacingAndGlyphs">England</text>
</g>
<g class="arrows" fill="#e0321f" stroke="#e0321f" stroke-linejoin="round" stroke-linecap="round">
<!-- arrow 1: tapered shaft + chevron head -->
<path stroke-width="1" d="M548.7 112.9 L550.0 115.6 L463.2 153.6 L461.0 148.2 Z"/>
<path fill="none" stroke-width="4.6" stroke-linejoin="miter" stroke-miterlimit="6" d="M466.4 138.8 L456.4 154.8 L475.8 158.7"/>
<path stroke="none" d="M457.5 154.8 L464.5 147.5 L468.5 156.8 Z"/>
<!-- arrow 2 -->
<path fill="none" stroke-width="5.2" d="M950.6 157.0 L1033 164.7"/>
<path fill="none" stroke-width="4.8" stroke-linejoin="miter" stroke-miterlimit="6" d="M1023.4 153.6 L1038.2 165.4 L1021.6 174.4"/>
<path stroke="none" d="M1037 165.3 L1029 160 L1028.5 169.5 Z"/>
</g>
<text class="note" y="101.9"><tspan x="404.0">4</tspan><tspan x="425.1" textLength="25.2" lengthAdjust="spacingAndGlyphs">月</tspan><tspan x="448.3 464.5 484.0 513.2 543.1 571.65 589.3 607.5 625.15 644.95">10日新增5095例</tspan></text>
<text class="note n2" y="138.8"><tspan x="751.0">9</tspan><tspan x="772.6" textLength="25.56" lengthAdjust="spacingAndGlyphs">月</tspan><tspan x="798.5 815.4 833.8 862.9 892.55 921.8 939.5 957.5 974.7 993.9">22日新增4926例</tspan></text>
</svg>
</body>
</html>
